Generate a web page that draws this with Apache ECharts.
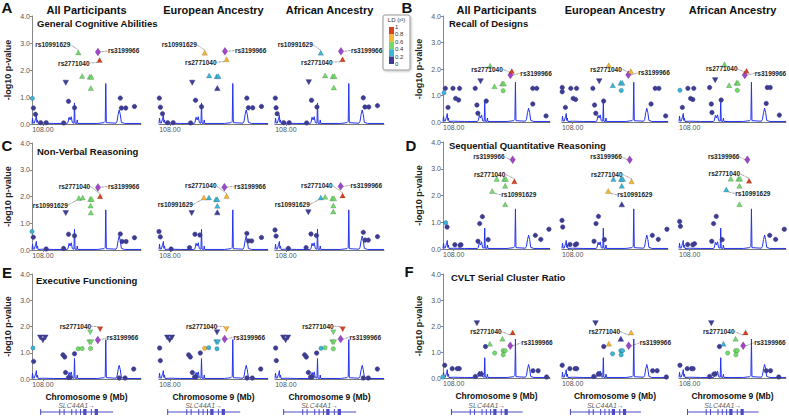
<!DOCTYPE html>
<html><head><meta charset="utf-8">
<script src="https://cdn.jsdelivr.net/npm/echarts@6/dist/echarts.min.js"></script>
<style>html,body{margin:0;padding:0;background:#fff}#c{width:789px;height:416px}</style>
</head><body><div id="c"></div>
<script>
// ---------------- DATA ----------------
const ancestries = ['All Participants', 'European Ancestry', 'African Ancestry'];
const panelKeys = ['A', 'B', 'C', 'D', 'E', 'F'];
const phenotypes = {
  A: 'General Cognitive Abilities', B: 'Recall of Designs', C: 'Non-Verbal Reasoning',
  D: 'Sequential Quantitative Reasoning', E: 'Executive Functioning', F: 'CVLT Serial Cluster Ratio'
};
const yTicks = [0, 1, 2, 3, 4];
const xTickValues = [108.00];
const xRange = [107.99, 108.09];
const axisNames = { y: '-log10 p-value', x: 'Chromosome 9 (Mb)' };
const ldBreaks = [0.2, 0.4, 0.6, 0.8];
const ldLegendLabels = ['1', '0.8', '0.6', '0.4', '0.2', '0'];
const geneName = 'SLC44A1';
const geneSpan = [107.9974, 108.0645];
const geneExons = [[107.9975,107.998],[108.015,108.0155],[108.019,108.0195],[108.026,108.0265],[108.030,108.0305],[108.034,108.0345],[108.037,108.040],[108.044,108.0445],[108.0475,108.0505]];
// recombination rate trace (same region for every plot)
const recomb = [[107.99,0.02],[107.9905,0.22],[107.991,0.05],[107.992,0.03],[107.9935,0.22],[107.994,0.32],[107.9945,0.06],[107.995,0.15],[107.9956,0.02],[108.0,0.03],[108.01,0.02],[108.022,0.02],[108.023,0.05],[108.024,0.25],[108.025,0.15],[108.026,0.27],[108.027,0.05],[108.0285,0.03],[108.029,0.78],[108.0295,0.03],[108.031,0.02],[108.0315,0.15],[108.032,0.02],[108.05,0.02],[108.056,0.05],[108.0572,0.1],[108.0577,1.5],[108.0582,0.05],[108.067,0.03],[108.068,0.1],[108.069,0.35],[108.07,0.52],[108.071,0.35],[108.072,0.06],[108.075,0.02],[108.09,0.02]];

// SNP rows: [position Mb, -log10 p, LD r2, shape (o circle, u up, d down, v lead), name]
const A_all = [[107.9903,0.95,0.3,'o'],[107.9913,0.59,0.1,'o'],[107.9932,0.36,0.1,'o'],[107.998,0.05,0.1,'o'],[108.003,0.05,0.1,'o'],[108.019,0.04,0.1,'o'],[108.021,1.53,0.1,'d'],[108.0235,0.84,0.1,'o'],[108.029,0.60,0.1,'o'],[108.0325,2.65,0.5,'u','rs10991629'],[108.036,1.78,0.5,'u'],[108.043,1.75,0.5,'u'],[108.0445,1.75,0.5,'u'],[108.044,1.33,0.5,'u'],[108.0505,2.67,1.0,'v','rs3199966'],[108.052,2.37,0.9,'u','rs2771040'],[108.071,0.96,0.1,'o'],[108.072,0.59,0.1,'o'],[108.076,0.59,0.1,'o'],[108.084,0.65,0.1,'o']];
const A_eur = [[107.9903,0.96,0.1,'o'],[107.9913,0.62,0.1,'o'],[107.9932,0.38,0.1,'o'],[107.998,0.05,0.1,'o'],[108.003,0.05,0.1,'o'],[108.019,0.04,0.1,'o'],[108.0205,1.53,0.1,'d'],[108.0235,0.88,0.1,'o'],[108.029,0.64,0.1,'o'],[108.032,2.64,0.7,'u','rs10991629'],[108.036,1.80,0.3,'u'],[108.043,1.77,0.3,'u'],[108.0445,1.77,0.3,'u'],[108.0435,1.33,0.1,'u'],[108.0505,2.69,1.0,'v','rs3199966'],[108.052,2.40,0.7,'u','rs2771040'],[108.0706,0.96,0.1,'o'],[108.072,0.60,0.1,'o'],[108.076,0.60,0.1,'o'],[108.084,0.65,0.1,'o']];
const A_afr = [[107.9903,0.96,0.1,'o'],[107.991,0.60,0.1,'o'],[107.992,0.38,0.1,'o'],[107.998,0.05,0.1,'o'],[108.003,0.05,0.1,'o'],[108.019,0.04,0.1,'o'],[108.021,1.55,0.1,'d'],[108.0235,0.88,0.1,'o'],[108.0285,0.63,0.1,'o'],[108.032,2.64,0.3,'u','rs10991629'],[108.036,1.80,0.5,'u'],[108.043,1.77,0.5,'u'],[108.0445,1.77,0.5,'u'],[108.044,1.35,0.5,'u'],[108.0505,2.69,1.0,'v','rs3199966'],[108.052,2.40,0.9,'u','rs2771040'],[108.071,0.97,0.1,'o'],[108.0725,0.63,0.1,'o'],[108.076,0.63,0.1,'o'],[108.084,0.68,0.1,'o']];

const B_all = [[107.9909,1.10,0.3,'o'],[107.9922,1.27,0.1,'o'],[107.9947,0.55,0.1,'o'],[107.9993,1.27,0.1,'o'],[108.0018,0.89,0.1,'o'],[108.0046,0.83,0.1,'o'],[108.0055,1.27,0.1,'o'],[108.0201,1.27,0.1,'o'],[108.0217,0.64,0.1,'o'],[108.0226,0.33,0.1,'o'],[108.0251,1.54,0.1,'d'],[108.0304,0.79,0.1,'o'],[108.0341,2.12,0.5,'u'],[108.0381,1.35,0.5,'u'],[108.0453,1.45,0.5,'u'],[108.0468,1.45,0.5,'u'],[108.0462,1.18,0.5,'o'],[108.053,1.77,1.0,'v','rs3199966'],[108.0543,1.92,0.9,'u','rs2771040'],[108.0739,1.27,0.1,'o'],[108.0776,1.27,0.1,'o'],[108.0739,0.68,0.1,'o'],[108.0863,0.23,0.1,'o']];
const B_eur = [[107.9902,1.30,0.1,'o'],[107.9902,1.14,0.1,'o'],[107.9932,0.55,0.1,'o'],[107.9983,1.27,0.1,'o'],[108.0005,0.89,0.1,'o'],[108.0028,0.85,0.1,'o'],[108.0037,1.27,0.1,'o'],[108.0191,1.27,0.1,'o'],[108.0207,0.64,0.1,'o'],[108.0219,0.33,0.1,'o'],[108.0251,1.54,0.1,'d'],[108.0293,0.79,0.1,'o'],[108.0341,2.14,0.7,'u'],[108.0379,1.39,0.3,'u'],[108.0453,1.48,0.3,'u'],[108.0469,1.48,0.3,'u'],[108.0459,1.19,0.3,'o'],[108.0526,1.78,1.0,'v','rs3199966'],[108.0549,1.92,0.7,'u','rs2771040'],[108.0779,1.27,0.1,'o'],[108.0814,1.27,0.1,'o'],[108.074,0.68,0.1,'o'],[108.0878,0.23,0.1,'o']];
const B_afr = [[107.9909,1.20,0.3,'o'],[107.9931,0.55,0.1,'o'],[107.9983,1.27,0.1,'o'],[108.0008,0.89,0.1,'o'],[108.0029,0.85,0.1,'o'],[108.0038,1.27,0.1,'o'],[108.0186,1.30,0.1,'o'],[108.0202,0.68,0.1,'o'],[108.0208,0.36,0.1,'o'],[108.0238,1.58,0.1,'d'],[108.0294,0.83,0.1,'o'],[108.0325,2.18,0.5,'u'],[108.0368,1.39,0.5,'u'],[108.0438,1.48,0.5,'u'],[108.0451,1.48,0.5,'u'],[108.0445,1.20,0.5,'o'],[108.0515,1.77,1.0,'v','rs3199966'],[108.0531,1.93,0.9,'u','rs2771040'],[108.0725,1.30,0.1,'o'],[108.0752,1.30,0.1,'o'],[108.0715,0.70,0.1,'o'],[108.0838,0.26,0.1,'o']];

const C_all = [[107.99,0.69,0.3,'o'],[107.9912,0.48,0.1,'o'],[108.003,0.04,0.1,'o'],[108.019,0.06,0.1,'o'],[108.021,1.38,0.1,'d'],[108.0235,0.59,0.1,'o'],[108.029,0.53,0.1,'o'],[108.033,1.94,0.5,'u','rs10991629'],[108.0365,1.96,0.5,'u'],[108.0435,1.91,0.5,'u'],[108.0447,1.91,0.5,'u'],[108.0437,1.66,0.5,'u'],[108.044,1.40,0.5,'u'],[108.0505,2.34,1.0,'v','rs3199966'],[108.0525,2.01,0.9,'u','rs2771040'],[108.071,0.60,0.1,'o'],[108.0726,0.32,0.1,'o'],[108.0763,0.32,0.1,'o'],[108.084,0.46,0.1,'o']];
const C_eur = [[107.99,0.69,0.1,'o'],[107.9912,0.49,0.1,'o'],[108.0011,0.04,0.1,'o'],[108.018,0.09,0.1,'o'],[108.020,1.38,0.1,'d'],[108.023,0.59,0.1,'o'],[108.0275,0.56,0.1,'o'],[108.0312,1.96,0.7,'u','rs10991629'],[108.0358,1.96,0.3,'u'],[108.0423,1.90,0.3,'u'],[108.0435,1.90,0.3,'u'],[108.0435,1.65,0.3,'u'],[108.0435,1.41,0.1,'u'],[108.050,2.35,1.0,'v','rs3199966'],[108.052,2.02,0.7,'u','rs2771040'],[108.0706,0.62,0.1,'o'],[108.072,0.34,0.1,'o'],[108.075,0.34,0.1,'o'],[108.084,0.47,0.1,'o']];
const C_afr = [[107.99,0.75,0.1,'o'],[107.991,0.52,0.1,'o'],[108.0022,0.06,0.1,'o'],[108.0185,0.09,0.1,'o'],[108.0206,1.41,0.1,'d'],[108.023,0.60,0.1,'o'],[108.028,0.54,0.1,'o'],[108.032,1.96,0.3,'u','rs10991629'],[108.036,1.99,0.5,'u'],[108.0426,1.93,0.5,'u'],[108.0441,1.93,0.5,'u'],[108.0435,1.66,0.5,'u'],[108.0435,1.44,0.5,'u'],[108.0502,2.38,1.0,'v','rs3199966'],[108.052,2.04,0.9,'u','rs2771040'],[108.071,0.66,0.1,'o'],[108.0726,0.37,0.1,'o'],[108.0756,0.37,0.1,'o'],[108.084,0.50,0.1,'o']];

const D_all = [[107.9925,0.98,0.3,'o'],[107.9938,0.82,0.1,'o'],[108.0011,0.16,0.1,'o'],[108.0059,0.14,0.1,'o'],[108.0068,0.16,0.1,'o'],[108.0227,0.29,0.1,'o'],[108.0243,0.95,0.1,'o'],[108.0268,1.21,0.1,'o'],[108.0322,0.35,0.1,'o'],[108.036,2.17,0.5,'u','rs10991629'],[108.0402,2.62,0.5,'u'],[108.0471,2.62,0.5,'u'],[108.0487,2.62,0.5,'u'],[108.0481,2.36,0.5,'u'],[108.0481,1.67,0.5,'u'],[108.0551,3.34,1.0,'v','rs3199966'],[108.0567,2.53,0.9,'u','rs2771040'],[108.0763,0.51,0.1,'o'],[108.0814,0.36,0.1,'o'],[108.089,0.74,0.1,'o']];
const D_eur = [[107.99,1.07,0.1,'o'],[107.9907,0.82,0.1,'o'],[107.9975,0.17,0.1,'o'],[108.0025,0.16,0.1,'o'],[108.0038,0.19,0.1,'o'],[108.0202,0.29,0.1,'o'],[108.0221,0.95,0.1,'o'],[108.0244,1.22,0.1,'o'],[108.030,0.35,0.1,'o'],[108.0336,2.17,0.7,'u','rs10991629'],[108.0385,2.62,0.3,'u'],[108.0457,2.62,0.3,'u'],[108.0474,2.62,0.3,'u'],[108.0464,2.36,0.3,'u'],[108.0464,1.67,0.1,'u'],[108.0539,3.34,1.0,'v','rs3199966'],[108.0556,2.53,0.7,'u','rs2771040'],[108.0752,0.51,0.1,'o'],[108.0808,0.36,0.1,'o'],[108.089,0.74,0.1,'o']];
const D_afr = [[107.9906,1.03,0.1,'o'],[107.9913,0.85,0.1,'o'],[107.9981,0.17,0.1,'o'],[108.0029,0.16,0.1,'o'],[108.0045,0.20,0.1,'o'],[108.0206,0.29,0.1,'o'],[108.0223,0.95,0.1,'o'],[108.0248,1.22,0.1,'o'],[108.0303,0.35,0.1,'o'],[108.0342,2.22,0.3,'u','rs10991629'],[108.0384,2.63,0.5,'u'],[108.0455,2.63,0.5,'u'],[108.0471,2.63,0.5,'u'],[108.0465,2.36,0.5,'u'],[108.0465,1.67,0.5,'u'],[108.0539,3.34,1.0,'v','rs3199966'],[108.0555,2.55,0.9,'u','rs2771040'],[108.0748,0.51,0.1,'o'],[108.0803,0.36,0.1,'o'],[108.0884,0.74,0.1,'o']];

const E_all = [[107.9909,1.18,0.3,'o'],[107.9915,0.67,0.1,'o'],[107.9976,1.58,0.1,'d'],[108.0,1.48,0.1,'d'],[108.0022,1.58,0.1,'d'],[108.0184,0.92,0.1,'o'],[108.020,0.84,0.1,'o'],[108.0208,0.25,0.1,'o'],[108.0235,0.06,0.1,'o'],[108.025,0.06,0.1,'o'],[108.029,0.96,0.1,'o'],[108.0324,1.15,0.5,'o'],[108.036,1.16,0.5,'o'],[108.0434,1.78,0.5,'d'],[108.0427,1.40,0.5,'d'],[108.0443,1.40,0.5,'d'],[108.0437,1.16,0.5,'o'],[108.0504,1.49,1.0,'v','rs3199966'],[108.0525,1.90,0.9,'d','rs2771040'],[108.070,0.04,0.1,'o'],[108.0754,0.04,0.1,'o'],[108.0833,0.38,0.1,'o']];
const E_eur = [[107.9906,1.18,0.1,'o'],[107.9912,0.70,0.1,'o'],[107.9976,1.58,0.1,'d'],[107.9998,1.48,0.1,'d'],[108.0019,1.58,0.1,'d'],[108.0172,0.92,0.1,'o'],[108.0187,0.84,0.1,'o'],[108.0206,0.25,0.1,'o'],[108.0227,0.08,0.1,'o'],[108.0242,0.08,0.1,'o'],[108.0279,0.99,0.1,'o'],[108.0319,1.17,0.7,'o'],[108.0356,1.19,0.3,'o'],[108.0432,1.78,0.1,'d'],[108.0426,1.40,0.3,'d'],[108.0441,1.40,0.3,'d'],[108.0432,1.15,0.3,'o'],[108.0502,1.52,1.0,'v','rs3199966'],[108.0518,1.90,0.7,'d','rs2771040'],[108.0707,0.04,0.1,'o'],[108.0756,0.04,0.1,'o'],[108.0833,0.38,0.1,'o']];
const E_afr = [[107.9906,1.18,0.1,'o'],[107.9912,0.70,0.1,'o'],[107.9976,1.58,0.1,'d'],[107.9998,1.48,0.1,'d'],[108.0019,1.58,0.1,'d'],[108.0172,0.92,0.1,'o'],[108.0187,0.84,0.1,'o'],[108.0206,0.25,0.1,'o'],[108.0227,0.08,0.1,'o'],[108.0242,0.08,0.1,'o'],[108.0282,0.99,0.1,'o'],[108.0322,1.17,0.3,'o'],[108.0359,1.19,0.5,'o'],[108.0435,1.78,0.5,'d'],[108.0426,1.40,0.5,'d'],[108.0441,1.40,0.5,'d'],[108.0435,1.15,0.5,'o'],[108.0502,1.52,1.0,'v','rs3199966'],[108.0521,1.90,0.9,'d','rs2771040'],[108.071,0.04,0.1,'o'],[108.0756,0.04,0.1,'o'],[108.0839,0.38,0.1,'o']];

const F_all = [[107.99,0.04,0.3,'o'],[107.9916,0.49,0.1,'o'],[107.9986,0.36,0.1,'o'],[108.0033,0.36,0.1,'o'],[108.0052,0.36,0.1,'o'],[108.0202,0.06,0.1,'o'],[108.0243,0.15,0.1,'o'],[108.0259,0.15,0.1,'o'],[108.0297,1.21,0.1,'o'],[108.0217,2.11,0.1,'d'],[108.0338,1.32,0.5,'u'],[108.0383,0.96,0.5,'o'],[108.0456,1.51,0.5,'u'],[108.0462,1.05,0.5,'o'],[108.0481,1.05,0.5,'o'],[108.0462,0.89,0.5,'o'],[108.0529,1.24,1.0,'v','rs3199966'],[108.0551,1.75,0.9,'u','rs2771040'],[108.0741,0.28,0.1,'o'],[108.0789,0.28,0.1,'o'],[108.0868,0.04,0.1,'o']];
const F_eur = [[107.9902,0.49,0.1,'o'],[107.9974,0.36,0.1,'o'],[108.0023,0.36,0.1,'o'],[108.0039,0.36,0.1,'o'],[108.020,0.06,0.1,'o'],[108.0242,0.15,0.1,'o'],[108.0255,0.15,0.1,'o'],[108.0294,1.21,0.1,'o'],[108.0216,2.11,0.1,'d'],[108.0342,1.32,0.7,'u'],[108.0377,0.93,0.3,'o'],[108.0455,1.51,0.1,'u'],[108.0455,1.05,0.3,'o'],[108.0471,1.05,0.3,'o'],[108.0458,0.89,0.3,'o'],[108.0529,1.24,1.0,'v','rs3199966'],[108.0552,1.75,0.7,'u','rs2771040'],[108.0755,0.28,0.1,'o'],[108.0797,0.28,0.1,'o'],[108.0884,0.04,0.1,'o']];
const F_afr = [[107.9909,0.49,0.1,'o'],[107.9977,0.36,0.1,'o'],[108.0017,0.36,0.1,'o'],[108.0032,0.36,0.1,'o'],[108.0186,0.06,0.1,'o'],[108.0226,0.15,0.1,'o'],[108.0238,0.15,0.1,'o'],[108.0278,1.21,0.1,'o'],[108.0202,2.11,0.1,'d'],[108.0315,1.32,0.3,'u'],[108.0355,0.96,0.5,'o'],[108.0429,1.51,0.5,'u'],[108.0429,1.05,0.5,'o'],[108.0445,1.05,0.5,'o'],[108.0432,0.89,0.5,'o'],[108.050,1.24,1.0,'v','rs3199966'],[108.0522,1.75,0.9,'u','rs2771040'],[108.0715,0.28,0.1,'o'],[108.0755,0.28,0.1,'o'],[108.0832,0.04,0.1,'o']];

const panelData = { A:[A_all,A_eur,A_afr], B:[B_all,B_eur,B_afr], C:[C_all,C_eur,C_afr], D:[D_all,D_eur,D_afr], E:[E_all,E_eur,E_afr], F:[F_all,F_eur,F_afr] };

// ---------------- STYLE / LAYOUT ----------------
const FONT = 'Liberation Sans, Arial, sans-serif';
const LD_COLORS = ['#3d3c91', '#3cb4d8', '#74d96c', '#f5b52e', '#d9411e'];
const LEAD_COLOR = '#a047c9';
const RECOMB_COLOR = '#2233f0';
const GENE_COLOR = '#4b4bc4';
const LEFT_COLS = [[32,109],[159,109],[275,109]];
const RIGHT_COLS = [[443,107],[562,106],[679,107]];
const layout = {
  A: {cols: LEFT_COLS, top: 16, h: 108, letter: [7,7], sub: [37,23], header: true},
  B: {cols: RIGHT_COLS, top: 16, h: 106, letter: [407,7], sub: [449,23], header: true},
  C: {cols: LEFT_COLS, top: 143, h: 107, letter: [7,145], sub: [37,151]},
  D: {cols: RIGHT_COLS, top: 142, h: 107, letter: [411,145], sub: [449,145]},
  E: {cols: LEFT_COLS, top: 274, h: 105, letter: [7,272], sub: [36,280], gene: true},
  F: {cols: RIGHT_COLS, top: 274, h: 104, letter: [409,271], sub: [451,277], gene: true}
};
const labelStyle = {
  A: {rs10991629: ['left',0,-8], rs2771040: ['left',-2,3], rs3199966: ['right',2,-1]},
  B: {rs2771040: ['left',-1,-2], rs3199966: ['right',2,-2]},
  C: {rs10991629: ['left',-3,7], rs2771040: ['left',-2,-10], rs3199966: ['right',2,-1]},
  D: {rs10991629: ['right',1,4], rs2771040: ['left',-1,-7], rs3199966: ['left',0,-3]},
  E: {rs2771040: ['left',-1,-3], rs3199966: ['right',1,-2]},
  F: {rs2771040: ['left',-3,-1], rs3199966: ['right',3,-3]}
};

function ldColor(r2) { let i = 0; while (i < ldBreaks.length && r2 >= ldBreaks[i]) i++; return LD_COLORS[i]; }
function symbolOf(s) {
  if (s === 'u') return {symbol: 'triangle', symbolSize: [5.5,5]};
  if (s === 'd') return {symbol: 'triangle', symbolSize: [5.5,5], symbolRotate: 180};
  if (s === 'v') return {symbol: 'diamond', symbolSize: [5.5,8]};
  return {symbol: 'circle', symbolSize: 4.5};
}

const grids = [], xAxes = [], yAxes = [], series = [], graphics = [];
let gi = 0;
panelKeys.forEach(key => {
  const L = layout[key];
  const offs = labelStyle[key];
  panelData[key].forEach((rows, k) => {
    const [left, width] = L.cols[k];
    grids.push({left, top: L.top, width, height: L.h});
    xAxes.push({
      gridIndex: gi, type: 'value', min: xRange[0], max: xRange[1],
      axisLine: {show: true, onZero: false, lineStyle: {color: '#777', width: 1}},
      axisTick: {show: true, customValues: xTickValues, length: 2, lineStyle: {color: '#777'}},
      axisLabel: {customValues: xTickValues, formatter: v => v.toFixed(2), fontSize: 7, color: '#555', margin: 2, fontFamily: FONT},
      splitLine: {show: false},
      name: L.gene ? axisNames.x : '', nameLocation: 'middle', nameGap: 13,
      nameTextStyle: {fontSize: 8.5, fontWeight: 'bold', color: '#111', fontFamily: FONT}
    });
    yAxes.push({
      gridIndex: gi, type: 'value', min: 0, max: 4, interval: 1, show: k === 0,
      axisLine: {show: true, lineStyle: {color: '#888', width: 1}},
      axisTick: {show: true, length: 2, lineStyle: {color: '#888'}},
      axisLabel: {fontSize: 7, color: '#555', margin: 2, fontFamily: FONT, formatter: v => v.toFixed(1)},
      splitLine: {show: false},
      name: k === 0 ? axisNames.y : '', nameLocation: 'middle', nameGap: 20,
      nameTextStyle: {fontSize: 9, fontWeight: 'bold', color: '#222', fontFamily: FONT}
    });
    series.push({
      type: 'line', xAxisIndex: gi, yAxisIndex: gi, data: recomb, symbol: 'none', silent: true,
      lineStyle: {color: RECOMB_COLOR, width: 1}, z: 2
    });
    const items = rows.map(r => {
      const sym = symbolOf(r[3]);
      const col = r[3] === 'v' ? LEAD_COLOR : ldColor(r[2]);
      const it = Object.assign({value: [r[0], r[1]]}, sym, {
        itemStyle: {color: col, borderColor: r[2] < 0.2 ? col : 'rgba(0,0,0,0.3)', borderWidth: 0.5, opacity: 1}
      });
      if (r[4] && offs[r[4]]) {
        it.label = {show: true, position: offs[r[4]][0], distance: 5, formatter: r[4],
          fontSize: 6.5, fontWeight: 'bold', color: '#222', fontFamily: FONT};
        it.labelLine = {show: true};
      }
      return it;
    });
    series.push({
      type: 'scatter', xAxisIndex: gi, yAxisIndex: gi, data: items, z: 3, silent: true,
      label: {show: false},
      labelLine: {show: false, lineStyle: {color: '#333', width: 0.7, type: 'dotted'}},
      labelLayout: p => { const r = rows[p.dataIndex]; const o = r && r[4] && offs[r[4]]; return o ? {dx: o[1], dy: o[2]} : {}; }
    });
    gi++;
  });
  if (L.gene) {
    L.cols.forEach(([left, width]) => {
      grids.push({left, top: 408, width, height: 8});
      xAxes.push({gridIndex: gi, type: 'value', min: xRange[0], max: xRange[1], show: false});
      yAxes.push({gridIndex: gi, type: 'value', min: 0, max: 1, show: false});
      series.push({type: 'line', xAxisIndex: gi, yAxisIndex: gi, symbol: 'none', silent: true,
        data: [[geneSpan[0], 0.5], [geneSpan[1], 0.5]], lineStyle: {color: GENE_COLOR, width: 1}});
      series.push({type: 'custom', xAxisIndex: gi, yAxisIndex: gi, silent: true, data: geneExons,
        renderItem: (params, api) => {
          const s = api.coord([api.value(0), 0.5]);
          const e = api.coord([api.value(1), 0.5]);
          return {type: 'rect', shape: {x: s[0], y: s[1] - 3, width: Math.max(1, e[0] - s[0]), height: 6}, style: {fill: GENE_COLOR}};
        }});
      series.push({type: 'scatter', xAxisIndex: gi, yAxisIndex: gi, silent: true, symbolSize: 0,
        data: [[(geneSpan[0] + geneSpan[1]) / 2, 0.5]],
        label: {show: true, position: 'top', distance: 3, formatter: geneName + '→', fontSize: 7,
          fontStyle: 'italic', color: '#333', fontFamily: FONT}});
      gi++;
    });
  }
  // panel letter + phenotype subtitle
  graphics.push({type: 'text', style: {x: L.letter[0], y: L.letter[1], text: key, fontSize: 15, fontWeight: 'bold',
    fill: '#111', fontFamily: FONT, align: 'center', verticalAlign: 'middle'}});
  graphics.push({type: 'text', style: {x: L.sub[0], y: L.sub[1], text: phenotypes[key], fontSize: 9.5, fontWeight: 'bold',
    fill: '#111', fontFamily: FONT, align: 'left', verticalAlign: 'middle'}});
  if (L.header) {
    L.cols.forEach(([left, width], k) => {
      graphics.push({type: 'text', style: {x: left + width / 2, y: 10, text: ancestries[k],
        fontSize: 11, fontWeight: 'bold', fill: '#111', fontFamily: FONT, align: 'center', verticalAlign: 'middle'}});
    });
  }
});

// LD legend
const LG = {x: 383, y: 15, w: 27, h: 55, barX: 389, barW: 5, barTop: 27, step: 7.4};
graphics.push({type: 'rect', shape: {x: LG.x, y: LG.y, width: LG.w, height: LG.h, r: 2},
  style: {fill: '#fff', stroke: '#999', lineWidth: 1, shadowBlur: 2, shadowColor: 'rgba(0,0,0,0.25)', shadowOffsetX: 1, shadowOffsetY: 1}});
graphics.push({type: 'text', style: {x: LG.x + LG.w / 2, y: LG.y + 5, text: 'LD (r²)', fontSize: 6, fill: '#333',
  fontFamily: FONT, align: 'center', verticalAlign: 'middle'}});
LD_COLORS.slice().reverse().forEach((c, i) => {
  graphics.push({type: 'rect', shape: {x: LG.barX, y: LG.barTop + i * LG.step, width: LG.barW, height: LG.step}, style: {fill: c}});
});
ldLegendLabels.forEach((t, i) => {
  graphics.push({type: 'text', style: {x: LG.barX + LG.barW + 1, y: LG.barTop + i * LG.step, text: t, fontSize: 6,
    fill: '#333', fontFamily: FONT, align: 'left', verticalAlign: 'middle'}});
});

const chart = echarts.init(document.getElementById('c'), null, {renderer: 'svg', width: 789, height: 416});
chart.setOption({
  animation: false,
  backgroundColor: '#fff',
  textStyle: {fontFamily: FONT},
  grid: grids, xAxis: xAxes, yAxis: yAxes, series: series,
  graphic: graphics
});
</script></body></html>
